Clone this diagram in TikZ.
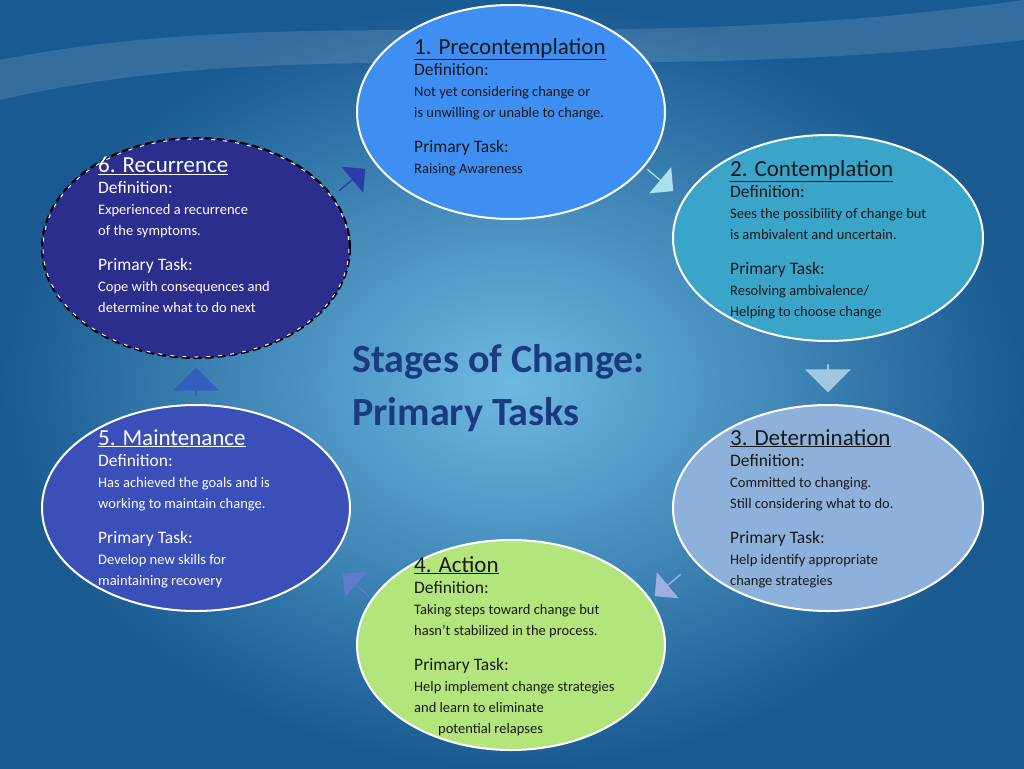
\documentclass[tikz,border=0pt]{standalone}
\usepackage{fontspec}
\setmainfont{Carlito}
\usetikzlibrary{shapes.arrows,shapes.geometric}
\definecolor{c1}{HTML}{3F8EF2}
\definecolor{c2}{HTML}{3BA5C9}
\definecolor{c3}{HTML}{8DB1DA}
\definecolor{c4}{HTML}{B4E47C}
\definecolor{c5}{HTML}{3B4FB9}
\definecolor{c6}{HTML}{2B2E8C}
\definecolor{ttl}{HTML}{1B3B7E}
\newcommand{\hd}[1]{{\fontsize{23}{26}\selectfont\underline{#1}}}
\newcommand{\lb}[1]{{\fontsize{17.5}{21}\selectfont #1}}
\begin{document}
\begin{tikzpicture}[x=1pt,y=-1pt,
  stage/.style={ellipse,draw=white,line width=2pt},
  txt/.style={anchor=north west,align=left,inner sep=0pt,font=\fontsize{14.5}{21}\selectfont},
  blk/.style={single arrow,minimum height=34pt,minimum width=34pt,single arrow head extend=5pt,inner sep=0pt,draw=none}]
\useasboundingbox (0,0) rectangle (1024,768);
\shade[inner color={rgb,255:red,110;green,185;blue,225},outer color={rgb,255:red,25;green,90;blue,145}] (0,0) rectangle (1024,768);
\fill[white,opacity=0.12] (0,60) .. controls (300,0) and (600,60) .. (1024,0) -- (1024,40) .. controls (600,90) and (300,30) .. (0,100) -- cycle;
% ellipses
\node[stage,fill=c1,minimum width=308pt,minimum height=214pt] (e1) at (511,112) {};
\node[stage,fill=c2,minimum width=310pt,minimum height=206pt] (e2) at (828,238) {};
\node[stage,fill=c3,minimum width=310pt,minimum height=206pt] (e3) at (828,508) {};
\node[stage,fill=c4,minimum width=308pt,minimum height=210pt] (e4) at (511,645) {};
\node[stage,fill=c5,minimum width=308pt,minimum height=206pt] (e5) at (196,508) {};
\node[stage,fill=c6,draw=black,dash pattern=on 8pt off 4pt,minimum width=308pt,minimum height=220pt] (e6) at (196,248) {};
\draw[white,line width=1pt,dash pattern=on 4pt off 8pt,dash phase=-8pt] (e6.center) ellipse (153pt and 109pt);
% arrows
\node[blk,fill={rgb,255:red,170;green,225;blue,235},rotate=-40] (a12) at (660,180) {};
\node[blk,fill={rgb,255:red,160;green,200;blue,225},rotate=-90,minimum height=28pt,minimum width=46pt] (a23) at (828,378) {};
\node[blk,fill={rgb,255:red,160;green,175;blue,225},rotate=-140] (a34) at (668,585) {};
\node[blk,fill={rgb,255:red,95;green,125;blue,205},rotate=140] (a45) at (356,585) {};
\node[blk,fill={rgb,255:red,50;green,95;blue,190},rotate=90,minimum height=28pt,minimum width=46pt] (a56) at (196,382) {};
\node[blk,fill={rgb,255:red,45;green,60;blue,170},rotate=40] (a61) at (352,180) {};
% title
\node[anchor=north west,align=left,inner sep=0pt,text=ttl,font=\bfseries\fontsize{40}{53}\selectfont] (title) at (352,344) {Stages of Change:\\Primary Tasks};
% texts
\node[txt,text=black!90] (t1) at (414,38) {\hd{1. Precontemplation}\\\lb{Definition:}\\Not yet considering change or\\is unwilling or unable to change.\\[14pt]\lb{Primary Task:}\\Raising Awareness};
\node[txt,text=black!90] (t2) at (730,160) {\hd{2. Contemplation}\\\lb{Definition:}\\Sees the possibility of change but\\is ambivalent and uncertain.\\[14pt]\lb{Primary Task:}\\Resolving ambivalence/\\Helping to choose change};
\node[txt,text=black!90] (t3) at (730,429) {\hd{3. Determination}\\\lb{Definition:}\\Committed to changing.\\Still considering what to do.\\[14pt]\lb{Primary Task:}\\Help identify appropriate\\change strategies};
\node[txt,text=black!90] (t4) at (414,556) {\hd{4. Action}\\\lb{Definition:}\\Taking steps toward change but\\hasn’t stabilized in the process.\\[14pt]\lb{Primary Task:}\\Help implement change strategies\\and learn to eliminate\\\hspace*{24pt}potential relapses};
\node[txt,text=white] (t5) at (98,429) {\hd{5. Maintenance}\\\lb{Definition:}\\Has achieved the goals and is\\working to maintain change.\\[14pt]\lb{Primary Task:}\\Develop new skills for\\maintaining recovery};
\node[txt,text=white] (t6) at (98,157) {\hd{6. Recurrence}\\\lb{Definition:}\\Experienced a recurrence\\of the symptoms.\\[14pt]\lb{Primary Task:}\\Cope with consequences and\\determine what to do next};
\end{tikzpicture}
\end{document}
